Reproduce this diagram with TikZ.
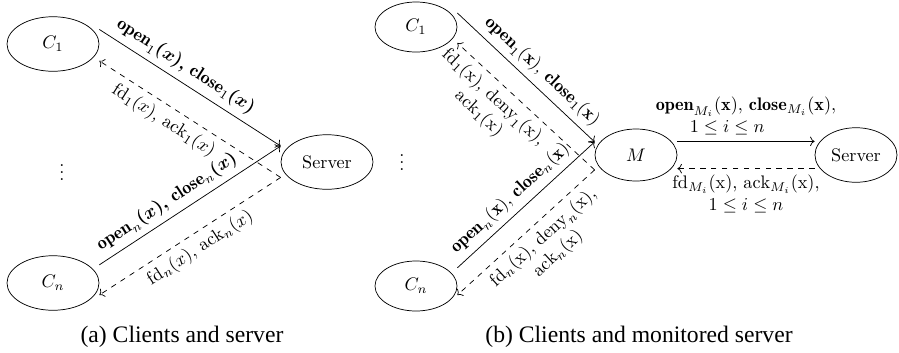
\documentclass[tikz,border=0pt]{standalone}
\usepackage{amsmath,amssymb}
\usepackage{fontspec}
\newfontfamily\capfont{Liberation Serif}
\usepackage{tikz}
\usetikzlibrary{shapes.geometric, arrows.meta, positioning}
\tikzset{
    party/.style={ellipse, draw, minimum width=50.6pt, minimum height=30pt, inner sep=0pt},
    smallparty/.style={ellipse, draw, minimum width=45.1pt, minimum height=27.5pt, inner sep=0pt},
    request/.style={->},
    reply/.style={->, dashed},
    reqlabel/.style={above, sloped},
    replabel/.style={below, sloped, align=center},
    caption/.style={font=\capfont\fontsize{13}{15}\selectfont}
}

\begin{document}
\begin{tikzpicture}[x=0.55pt, y=-0.55pt]
    \useasboundingbox (0,0) rectangle (899,352);

    % (a) Clients and server
    \node[party] (c1) at (53,44) {$C_1$};
    \node[party] (cn) at (53,283) {$C_n$};
    \node[party] (server) at (327,162) {Server};
    \node (dots) at (62,167) {$\vdots$};

    \draw[request] ([yshift=8pt]c1.east) -- node[reqlabel, pos=0.43] {$\mathbf{open}_1\boldsymbol{(x),}$ $\mathbf{close}_1\boldsymbol{(x)}$} ([yshift=8.8pt]server.west);
    \draw[reply] ([yshift=-8.5pt]server.west) -- node[replabel, pos=0.6] {$\mathrm{fd}_1(x)$, $\mathrm{ack}_1(x)$} ([yshift=-9.3pt]c1.east);
    \draw[request] ([yshift=10pt]cn.east) -- node[reqlabel, pos=0.42] {$\mathbf{open}_n\boldsymbol{(x),}$ $\mathbf{close}_n\boldsymbol{(x)}$} ([yshift=8.8pt]server.west);
    \draw[reply] ([yshift=-8.5pt]server.west) -- node[replabel, pos=0.49] {$\mathrm{fd}_n(x)$, $\mathrm{ack}_n(x)$} ([yshift=-6.6pt]cn.east);

    \node[caption] (capa) at (182,337) {(a) Clients and server};

    % (b) Clients and monitored server
    \node[smallparty] (mc1) at (416,27) {$C_1$};
    \node[smallparty] (mcn) at (416,286) {$C_n$};
    \node[smallparty, minimum height=28.6pt] (mon) at (636,155) {$M$};
    \node[smallparty, minimum height=30pt] (mserver) at (856,155) {Server};
    \node (mdots) at (402,157) {$\vdots$};

    \draw[request] ([yshift=7.7pt]mc1.east) -- node[reqlabel, pos=0.54] {$\mathbf{open}_1\mathbf{(x),}$ $\mathbf{close}_1\mathbf{(x)}$} ([yshift=7.2pt]mon.west);
    \draw[reply] ([yshift=-8.2pt]mon.west) -- node[replabel, pos=0.66] {$\mathrm{fd}_1(\mathrm{x})$, $\mathrm{deny}_1(\mathrm{x})$,\\ $\mathrm{ack}_1(\mathrm{x})$} ([yshift=-8.8pt]mc1.east);
    \draw[request] ([yshift=10pt]mcn.east) -- node[reqlabel, pos=0.46] {$\mathbf{open}_n\mathbf{(x),}$ $\mathbf{close}_n\mathbf{(x)}$} ([yshift=7.2pt]mon.west);
    \draw[reply] ([yshift=-8.2pt]mon.west) -- node[replabel, pos=0.45] {$\mathrm{fd}_n(\mathrm{x})$, $\mathrm{deny}_n(\mathrm{x})$,\\ $\mathrm{ack}_n(\mathrm{x})$} ([yshift=-5pt]mcn.east);

    \draw[request] ([yshift=7.5pt]mon.east) -- node[above, align=left] {$\mathbf{open}_{M_i}\mathbf{(x),}$ $\mathbf{close}_{M_i}\mathbf{(x),}$\\ \hspace{18.7pt}$1\le i\le n$} ([yshift=7.5pt]mserver.west);
    \draw[reply] ([yshift=-7.5pt]mserver.west) -- node[below, align=center] {$\mathrm{fd}_{M_i}(\mathrm{x})$, $\mathrm{ack}_{M_i}(\mathrm{x})$,\\ $1\le i\le n$} ([yshift=-7.5pt]mon.east);

    \node[caption] (capb) at (639,337) {(b) Clients and monitored server};
\end{tikzpicture}
\end{document}
